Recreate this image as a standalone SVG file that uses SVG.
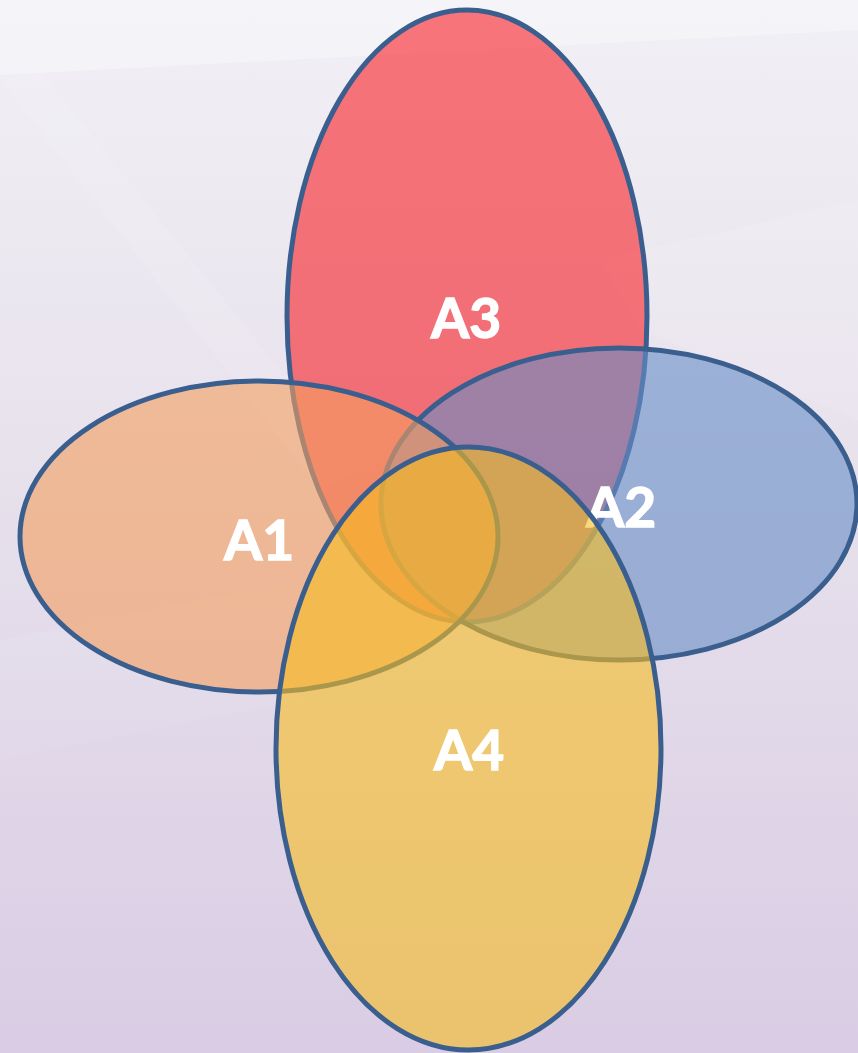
<svg xmlns="http://www.w3.org/2000/svg" width="858" height="1053" viewBox="0 0 858 1053">
  <defs>
    <linearGradient id="bg" x1="0" y1="0" x2="0" y2="1">
      <stop offset="0" stop-color="#F1F0F5"/>
      <stop offset="0.45" stop-color="#E7E1EC"/>
      <stop offset="1" stop-color="#D9CCE4"/>
    </linearGradient>
    <style>
      .shape { stroke: #3A5F8F; stroke-width: 5; }
      .a1 { fill: #F49F5F; fill-opacity: 0.6; }
      .a2 { fill: #678DC7; fill-opacity: 0.6; }
      .a3 { fill: #F91F26; fill-opacity: 0.6; }
      .a4 { fill: #F6BD20; fill-opacity: 0.6; }
      .label { font-family: Lato, "Open Sans", "Liberation Sans", sans-serif; font-weight: bold; font-size: 55px; fill: #FFFFFF; stroke: #FFFFFF; stroke-width: 1.4; text-anchor: middle; }
    </style>
  </defs>
  <g id="background">
    <rect x="0" y="0" width="858" height="1053" fill="url(#bg)"/>
    <polygon points="0,0 858,0 858,30 0,75" fill="#FFFFFF" opacity="0.3"/>
    <polygon points="0,80 40,70 360,470 320,490" fill="#FFFFFF" opacity="0.1"/>
    <polygon points="600,260 858,200 858,420 640,330" fill="#FFFFFF" opacity="0.1"/>
    <polygon points="0,640 300,580 300,700 0,760" fill="#FFFFFF" opacity="0.06"/>
  </g>
  <g id="A3">
    <ellipse class="shape a3" cx="467" cy="316" rx="180" ry="306"/>
    <text class="label" x="466" y="338">A3</text>
  </g>
  <g id="A2">
    <ellipse class="shape a2" cx="619" cy="504" rx="238" ry="156"/>
    <text class="label" x="621" y="527">A2</text>
  </g>
  <g id="A1">
    <ellipse class="shape a1" cx="259" cy="536.5" rx="239" ry="155.5"/>
    <text class="label" x="259" y="560">A1</text>
  </g>
  <g id="A4">
    <ellipse class="shape a4" cx="468.5" cy="748.5" rx="192.5" ry="301.5"/>
    <text class="label" x="469" y="770">A4</text>
  </g>
  <g id="connectors"/>
</svg>
